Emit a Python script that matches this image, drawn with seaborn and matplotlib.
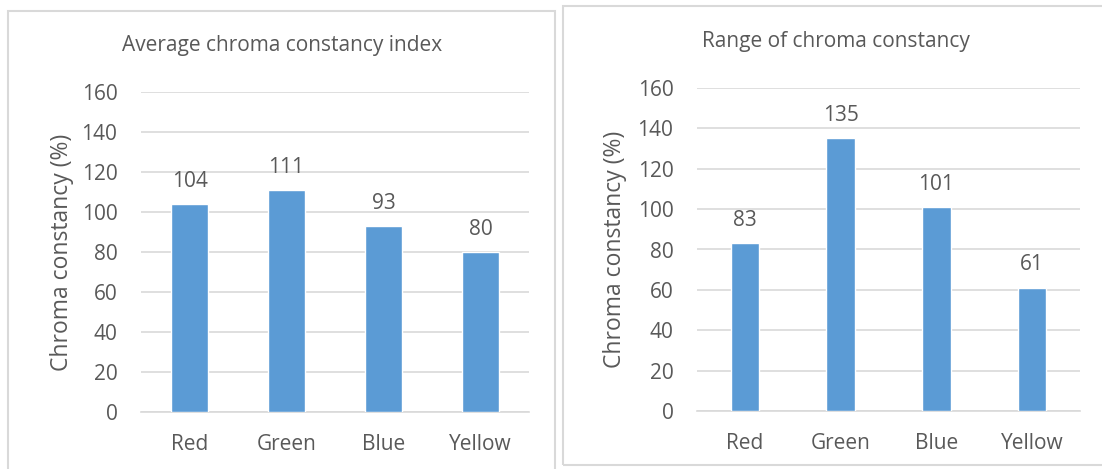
import matplotlib
matplotlib.use("Agg")
import matplotlib.pyplot as plt
from matplotlib.patches import Rectangle
import seaborn as sns
import pandas as pd

categories = ["Red", "Green", "Blue", "Yellow"]
avg_index = [104, 111, 93, 80]
range_values = [83, 135, 101, 61]
y_ticks = [0, 20, 40, 60, 80, 100, 120, 140, 160]

title_left = "Average chroma constancy index"
title_right = "Range of chroma constancy"
y_label = "Chroma constancy (%)"

BAR = "#5B9BD5"
TEXT = "#595959"
GRID = "#D9D9D9"
BORDER = "#D9D9D9"

sns.set_theme(style="white")
plt.rcParams["font.family"] = ["Open Sans", "DejaVu Sans"]

W, H = 1102, 469
fig = plt.figure(figsize=(W / 100, H / 100), dpi=100)


def px(x0, y0, x1, y1):
    # pixel box (top-left origin) -> figure fraction rect
    return [x0 / W, 1 - y1 / H, (x1 - x0) / W, (y1 - y0) / H]


# chart-area frames
for (x0, y0, x1, y1) in [(8, 11, 555, 475), (563, 6, 1110, 465)]:
    fig.patches.append(Rectangle((x0 / W, 1 - y1 / H), (x1 - x0) / W, (y1 - y0) / H,
                                 transform=fig.transFigure, fill=False,
                                 edgecolor=BORDER, linewidth=1.5))

panels = [
    (avg_index, title_left, px(141, 92, 529, 412), 0.39, (282, 45), 62),
    (range_values, title_right, px(697, 88, 1080, 411), 0.30, (836, 41), 615),
]

for values, title, rect, width, title_pos, ylab_x in panels:
    ax = fig.add_axes(rect)
    df = pd.DataFrame({"category": categories, "value": values})
    sns.barplot(data=df, x="category", y="value", color=BAR, saturation=1,
                width=width, ax=ax, zorder=3)
    ax.set_ylim(0, 160)
    ax.set_yticks(y_ticks)
    ax.set_xlim(-0.5, len(categories) - 0.5)
    ax.yaxis.grid(True, color=GRID, linewidth=1.2, zorder=0)
    ax.xaxis.grid(False)
    for s in ["top", "right", "left"]:
        ax.spines[s].set_visible(False)
    ax.spines["bottom"].set_color(GRID)
    ax.spines["bottom"].set_linewidth(1.2)
    ax.tick_params(axis="both", length=0, labelsize=15, colors=TEXT)
    ax.tick_params(axis="y", pad=17)
    ax.tick_params(axis="x", pad=16)
    ax.set_xlabel("")
    ax.set_ylabel("")
    for container in ax.containers:
        ax.bar_label(container, labels=[str(v) for v in values], padding=9,
                     fontsize=15, color=TEXT)
    fig.text(title_pos[0] / W, 1 - title_pos[1] / H, title, ha="center",
             va="center", fontsize=15, color=TEXT)
    fig.text(ylab_x / W, rect[1] + rect[3] / 2, y_label, ha="center",
             va="center", rotation=90, fontsize=16.5, color=TEXT)

fig.savefig("out.png", dpi=100, facecolor="white")
